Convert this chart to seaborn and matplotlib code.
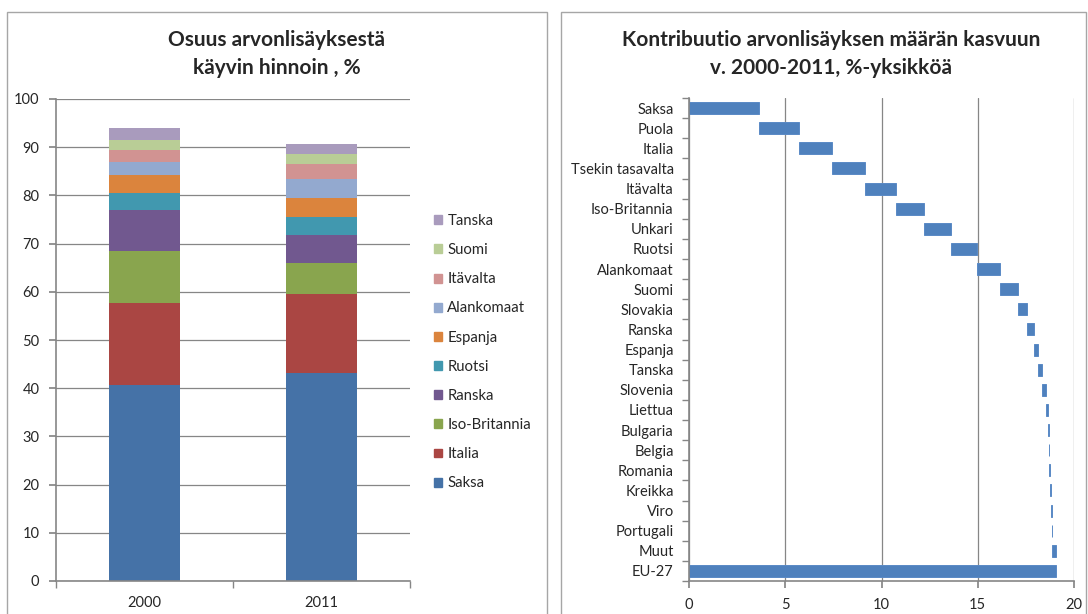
import seaborn as sns
import matplotlib.pyplot as plt
import matplotlib.patches as mpatches
import pandas as pd
import numpy as np

# 样式
sns.set_theme(style="white")
plt.rcParams["font.family"] = ["Lato", "DejaVu Sans"]
plt.rcParams["axes.unicode_minus"] = False

# 左图数据：osuus arvonlisäyksestä (%), alhaalta ylös
years = ["2000", "2011"]
countries = ["Saksa", "Italia", "Iso-Britannia", "Ranska", "Ruotsi",
             "Espanja", "Alankomaat", "Itävalta", "Suomi", "Tanska"]
share_2000 = [40.7, 16.9, 10.9, 8.4, 3.5, 3.9, 2.6, 2.5, 2.1, 2.4]
share_2011 = [43.2, 16.3, 6.4, 5.8, 3.9, 3.9, 3.8, 3.3, 2.0, 2.0]
colors = ["#4572A7", "#AA4643", "#89A54E", "#71588F", "#4198AF",
          "#DB843D", "#93A9CF", "#D19392", "#B9CD96", "#A99BBD"]

# 右图数据：kontribuutio (%-yksikköä)
contrib_labels = ["Saksa", "Puola", "Italia", "Tsekin tasavalta", "Itävalta",
                  "Iso-Britannia", "Unkari", "Ruotsi", "Alankomaat", "Suomi",
                  "Slovakia", "Ranska", "Espanja", "Tanska", "Slovenia",
                  "Liettua", "Bulgaria", "Belgia", "Romania", "Kreikka",
                  "Viro", "Portugali", "Muut"]
contrib = [3.63, 2.11, 1.71, 1.68, 1.64, 1.45, 1.41, 1.32, 1.23, 0.91,
           0.49, 0.32, 0.24, 0.22, 0.17, 0.10, 0.05, 0.04, 0.03, 0.04,
           0.05, 0.02, 0.19]

grid_c = "#868686"
fs = 10.5
W, H = 1088, 614
fig = plt.figure(figsize=(W / 100, H / 100), dpi=100)

# paneelien kehykset
for x0, x1 in [(7, 547), (561, 1086)]:
    fig.patches.append(mpatches.Rectangle((x0 / W, -0.05), (x1 - x0) / W, 1.05 - 12 / H,
                                          transform=fig.transFigure, fill=False,
                                          edgecolor="#a6a6a6", lw=1))

# ---------- vasen: pinottu pylväs ----------
ax1 = fig.add_axes([56 / W, 1 - 581 / H, (410 - 56) / W, (581 - 99) / H])
df = pd.DataFrame({"2000": share_2000, "2011": share_2011}, index=countries)
cum = df.cumsum()
for i in range(len(countries) - 1, -1, -1):
    d = pd.DataFrame({"year": years, "value": cum.iloc[i].values})
    sns.barplot(data=d, x="year", y="value", color=colors[i], width=0.4,
                saturation=1, ax=ax1, edgecolor="none")
ax1.set_ylim(0, 100)
ax1.set_yticks(range(0, 101, 10))
ax1.set_xlim(-0.5, 1.5)
ax1.set_xticks([-0.5, 0.5, 1.5], minor=True)
ax1.yaxis.grid(True, color=grid_c, lw=0.9)
ax1.set_axisbelow(True)
ax1.set_xlabel("")
ax1.set_ylabel("")
ax1.tick_params(axis="x", which="major", length=0, pad=11, labelsize=fs)
ax1.tick_params(axis="x", which="minor", length=5, color=grid_c, direction="out", bottom=True)
ax1.tick_params(axis="y", length=5, color=grid_c, direction="out", left=True, pad=7, labelsize=fs)
for s in ["top", "right"]:
    ax1.spines[s].set_visible(False)
for s in ["left", "bottom"]:
    ax1.spines[s].set_color(grid_c)
    ax1.spines[s].set_linewidth(1.2)

handles = [mpatches.Patch(color=colors[i], label=countries[i])
           for i in range(len(countries) - 1, -1, -1)]
fig.legend(handles=handles, loc="upper left", bbox_to_anchor=(434 / W, 1 - 214 / H),
           bbox_transform=fig.transFigure, frameon=False, fontsize=10.7,
           handlelength=0.55, handleheight=0.55, handletextpad=0.35,
           labelspacing=1.02, borderpad=0, borderaxespad=0)

fig.text(277 / W, 1 - 54 / H, "Osuus arvonlisäyksestä\nkäyvin hinnoin , %",
         ha="center", va="center", fontsize=15, fontweight="bold", linespacing=1.45)

# ---------- oikea: vesiputous ----------
ax2 = fig.add_axes([689 / W, 1 - 581 / H, (1074 - 689) / W, (581 - 98) / H])
starts = list(np.concatenate([[0], np.cumsum(contrib)[:-1]]))
total = float(np.sum(contrib))
wf = pd.DataFrame({"maa": contrib_labels + ["EU-27"],
                   "arvo": contrib + [total],
                   "alku": starts + [0.0]})
sns.barplot(data=wf, x="arvo", y="maa", orient="h", color="#4F81BD", saturation=1,
            width=0.6, ax=ax2, left=wf["alku"].values, edgecolor="#5A8AC6", linewidth=0.7)
ax2.set_xlim(0, 20)
ax2.set_xticks([0, 5, 10, 15, 20])
ax2.set_ylim(len(wf) - 0.5, -0.5)
ax2.set_yticks(np.arange(-0.5, len(wf), 1), minor=True)
ax2.xaxis.grid(True, color=grid_c, lw=0.9)
ax2.set_axisbelow(True)
ax2.set_xlabel("")
ax2.set_ylabel("")
ax2.tick_params(axis="y", which="major", length=0, pad=11, labelsize=fs)
ax2.tick_params(axis="y", which="minor", length=5, color=grid_c, direction="out", left=True)
ax2.tick_params(axis="x", length=5, color=grid_c, direction="out", bottom=True, pad=7, labelsize=fs)
for s in ["top", "right"]:
    ax2.spines[s].set_visible(False)
for s in ["left", "bottom"]:
    ax2.spines[s].set_color(grid_c)
    ax2.spines[s].set_linewidth(1.2)

fig.text(831 / W, 1 - 54 / H,
         "Kontribuutio arvonlisäyksen määrän kasvuun\nv. 2000-2011, %-yksikköä",
         ha="center", va="center", fontsize=15, fontweight="bold", linespacing=1.45)

fig.savefig("out.png", dpi=100)
